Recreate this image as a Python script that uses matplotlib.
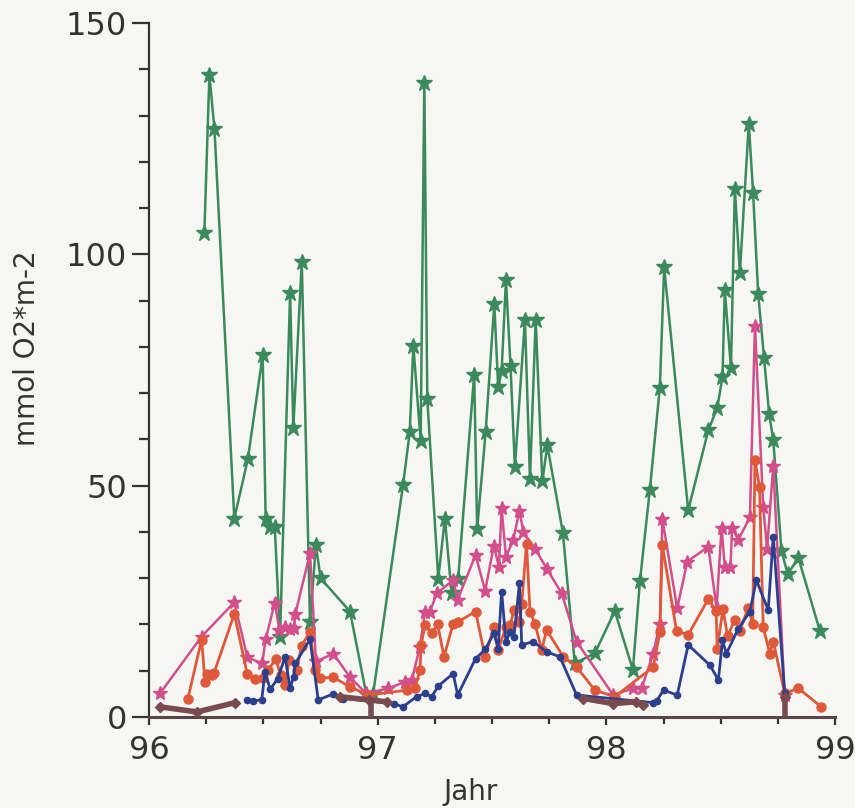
import numpy as np
import matplotlib
matplotlib.use("Agg")
import matplotlib.pyplot as plt
from matplotlib.ticker import MultipleLocator

# data (x in decimal years 96..99, y in mmol O2 m^-2)
green_x = [96.242, 96.264, 96.286, 96.373, 96.432, 96.497, 96.51, 96.53, 96.55, 96.573,
           96.617, 96.631, 96.668, 96.704, 96.73, 96.75, 96.879, 96.95, 96.98, 97.111,
           97.14, 97.156, 97.188, 97.204, 97.217, 97.265, 97.294, 97.323, 97.352, 97.422,
           97.435, 97.472, 97.51, 97.527, 97.542, 97.561, 97.581, 97.60, 97.644, 97.666,
           97.691, 97.72, 97.742, 97.81, 97.862, 97.95, 98.037, 98.116, 98.147, 98.19,
           98.234, 98.253, 98.358, 98.446, 98.485, 98.508, 98.518, 98.545, 98.562, 98.584,
           98.623, 98.642, 98.664, 98.69, 98.712, 98.73, 98.766, 98.793, 98.84, 98.934]
green_y = [104.7, 138.8, 127.2, 42.9, 55.7, 78.2, 42.9, 41.1, 41.0, 17.4,
           91.6, 62.4, 98.4, 20.6, 37.2, 30.0, 22.8, 5.0, 5.0, 50.2,
           61.5, 80.3, 59.6, 137.1, 68.7, 29.9, 42.9, 26.8, 29.9, 74.0,
           40.6, 61.5, 89.3, 71.3, 74.8, 94.5, 75.9, 54.0, 85.9, 51.4,
           85.9, 51.0, 58.7, 39.8, 11.6, 13.8, 22.9, 10.2, 29.4, 49.0,
           71.2, 97.2, 44.7, 62.0, 66.8, 73.5, 92.3, 75.4, 114.2, 96.0,
           128.2, 113.2, 91.5, 77.5, 65.5, 59.9, 35.9, 30.9, 34.4, 18.6]

pink_x = [96.048, 96.23, 96.373, 96.43, 96.495, 96.51, 96.55, 96.57, 96.595, 96.617,
          96.634, 96.64, 96.704, 96.73, 96.806, 96.879, 96.95, 97.047, 97.12, 97.149,
          97.185, 97.207, 97.229, 97.258, 97.33, 97.35, 97.428, 97.47, 97.508, 97.53,
          97.542, 97.561, 97.593, 97.62, 97.637, 97.688, 97.739, 97.805, 97.87, 98.03,
          98.118, 98.154, 98.205, 98.234, 98.245, 98.31, 98.354, 98.446, 98.482, 98.504,
          98.518, 98.543, 98.55, 98.577, 98.628, 98.65, 98.686, 98.703, 98.73, 98.78]
pink_y = [5.1, 17.4, 24.8, 12.9, 11.6, 16.8, 24.7, 18.9, 19.5, 19.0,
          19.2, 22.3, 35.4, 12.0, 13.7, 8.6, 5.1, 6.2, 7.6, 8.0,
          15.2, 22.8, 22.8, 26.7, 29.6, 25.4, 35.0, 27.3, 37.0, 32.5,
          45.1, 34.6, 38.3, 44.6, 40.0, 36.4, 32.1, 26.7, 16.3, 4.75,
          6.2, 6.2, 13.7, 20.2, 42.8, 23.5, 33.6, 36.8, 23.6, 40.9,
          32.5, 32.5, 40.9, 38.3, 43.2, 84.6, 45.5, 36.3, 54.3, 4.75]

orange_x = [96.17, 96.23, 96.245, 96.252, 96.274, 96.284, 96.373, 96.43, 96.464, 96.5,
            96.52, 96.555, 96.575, 96.595, 96.613, 96.646, 96.667, 96.704, 96.726, 96.748,
            96.806, 96.879, 96.96, 97.127, 97.163, 97.185, 97.19, 97.207, 97.236, 97.262,
            97.29, 97.33, 97.352, 97.428, 97.47, 97.508, 97.527, 97.561, 97.58, 97.596,
            97.62, 97.63, 97.651, 97.666, 97.688, 97.717, 97.739, 97.812, 97.87, 97.95,
            98.037, 98.205, 98.234, 98.245, 98.307, 98.358, 98.446, 98.48, 98.485, 98.51,
            98.53, 98.562, 98.584, 98.62, 98.64, 98.65, 98.67, 98.686, 98.715, 98.73,
            98.78, 98.84, 98.94]
orange_y = [4.0, 16.7, 7.6, 9.4, 9.1, 9.5, 22.3, 9.2, 8.3, 8.5,
            10.2, 12.5, 9.1, 6.9, 12.3, 10.2, 15.4, 18.4, 10.2, 8.4,
            8.6, 6.5, 4.75, 5.8, 6.2, 10.2, 15.6, 19.9, 18.1, 20.1,
            13.0, 20.2, 20.6, 22.8, 13.0, 19.5, 14.5, 19.5, 19.9, 23.1,
            20.6, 24.5, 37.5, 22.8, 20.2, 14.5, 18.8, 13.0, 10.8, 5.8,
            4.4, 10.8, 18.3, 37.1, 18.6, 17.8, 25.5, 22.9, 14.8, 23.3,
            17.5, 21.0, 18.6, 23.6, 20.1, 55.5, 49.7, 19.4, 13.7, 16.3,
            5.1, 6.2, 2.2]

navy_x = [96.427, 96.456, 96.493, 96.507, 96.53, 96.563, 96.595, 96.617, 96.632, 96.64,
          96.704, 96.74, 96.806, 96.85, 97.07, 97.11, 97.17, 97.207, 97.236, 97.265,
          97.33, 97.35, 97.428, 97.47, 97.508, 97.527, 97.542, 97.561, 97.58, 97.596,
          97.62, 97.63, 97.68, 97.739, 97.797, 97.87, 98.205, 98.22, 98.25, 98.31,
          98.358, 98.453, 98.49, 98.508, 98.525, 98.577, 98.628, 98.656, 98.708, 98.73,
          98.78]
navy_y = [3.7, 3.5, 3.7, 9.8, 6.0, 8.3, 13.0, 6.2, 8.7, 11.6,
          16.8, 3.7, 5.0, 4.0, 2.9, 2.2, 4.4, 5.1, 4.4, 6.7,
          9.4, 4.75, 12.6, 14.6, 18.1, 14.8, 27.1, 16.3, 18.4, 17.4,
          28.9, 15.6, 16.3, 14.1, 13.0, 4.75, 3.1, 3.5, 5.8, 4.75,
          15.6, 11.2, 8.0, 16.6, 13.7, 19.1, 22.8, 29.6, 23.1, 39.0,
          5.1]

# near-zero series, drawn in pieces
brown_x = [96.048, 96.21, 96.376, np.nan, 96.835, 96.96, 97.04, np.nan,
           97.9, 98.03, 98.13, 98.16, np.nan, 98.78]
brown_y = [2.2, 1.1, 3.1, np.nan, 4.4, 3.7, 3.3, np.nan,
           4.0, 2.9, 3.3, 2.6, np.nan, 4.4]
brown_drop_x = [96.97, 98.78]
brown_drop_y = [3.7, 4.4]

fig = plt.figure(figsize=(8.55, 8.08), dpi=100)
fig.patch.set_facecolor("#f6f7f2")
ax = fig.add_axes([0.1743, 0.1126, 0.8023, 0.8589])
ax.set_facecolor("#f6f7f2")

ax.plot(green_x, green_y, color="#3b8a5c", lw=1.8, marker="*", ms=12, zorder=2)
ax.plot(pink_x, pink_y, color="#d34f8c", lw=1.8, marker="*", ms=10, zorder=3)
ax.plot(orange_x, orange_y, color="#e0583a", lw=2.0, marker="o", ms=6.5, zorder=4)
ax.plot(navy_x, navy_y, color="#2c3f8f", lw=2.0, marker="o", ms=4.5, zorder=5)
ax.plot(brown_x, brown_y, color="#7a4b4e", lw=4, marker="D", ms=5, zorder=6,
        clip_on=False)
ax.vlines(brown_drop_x, 0, brown_drop_y, color="#7a4b4e", lw=4, zorder=6)

ax.set_xlim(96, 99)
ax.set_ylim(0, 150)
ax.spines["top"].set_visible(False)
ax.spines["right"].set_visible(False)
ax.spines["left"].set_color("#333333")
ax.spines["bottom"].set_color("#5a4548")
ax.spines["left"].set_linewidth(1.6)
ax.spines["bottom"].set_linewidth(2.2)

ax.set_xticks([96, 97, 98, 99])
ax.set_yticks([0, 50, 100, 150])
ax.xaxis.set_minor_locator(MultipleLocator(0.25))
ax.yaxis.set_minor_locator(MultipleLocator(10))
ax.tick_params(axis="y", which="major", length=12, width=1.6, color="#333333",
               labelsize=23, labelcolor="#333333", pad=4)
ax.tick_params(axis="y", which="minor", length=7, width=1.6, color="#333333")
ax.tick_params(axis="x", which="major", length=6, width=1.6, color="#333333",
               labelsize=23, labelcolor="#333333", pad=7)
ax.tick_params(axis="x", which="minor", length=5, width=1.6, color="#333333")

ax.set_xlabel("Jahr", fontsize=20, color="#333333")
ax.xaxis.set_label_coords(0.469, -0.088)
ax.set_ylabel("mmol O2*m-2", fontsize=20, color="#333333")
ax.yaxis.set_label_coords(-0.158, 0.532)

fig.savefig("out.png", dpi=100, facecolor=fig.get_facecolor())
